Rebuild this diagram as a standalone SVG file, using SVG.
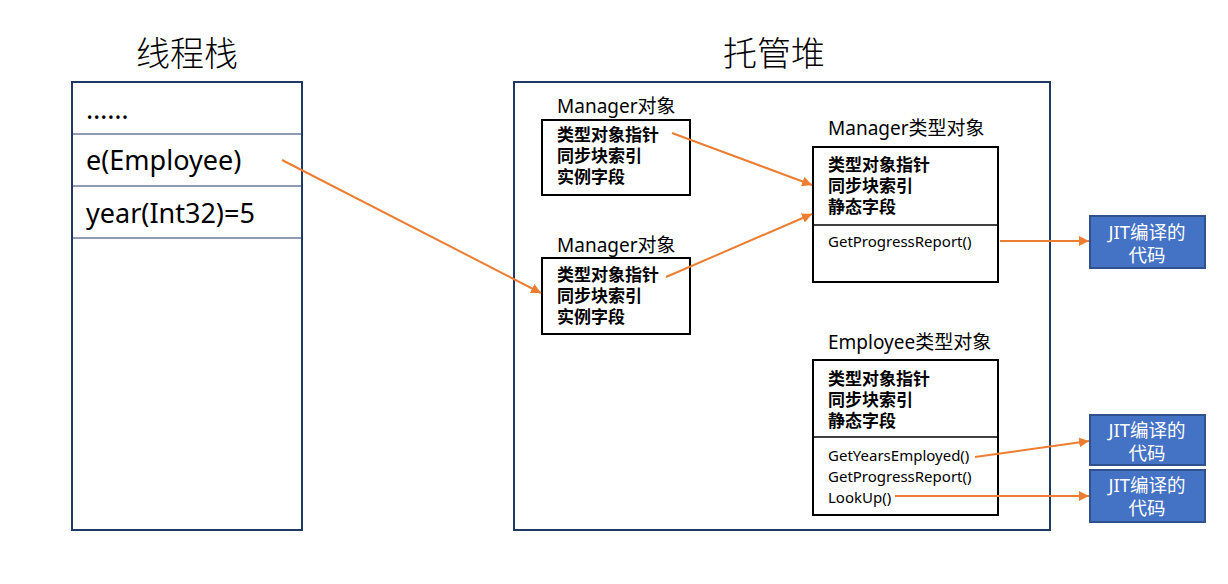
<svg xmlns="http://www.w3.org/2000/svg" width="1228" height="584" viewBox="0 0 1228 584">
<defs>
<marker id="ah" viewBox="0 0 10 10" refX="10" refY="5" markerWidth="10" markerHeight="10" markerUnits="userSpaceOnUse" orient="auto">
<path d="M0,0 L10,5 L0,10 Z" fill="#ED7D31"/>
</marker>
<style>
text{font-family:"Noto Sans","Noto Sans CJK SC",sans-serif;fill:#000}
.title{font-size:34px;text-anchor:middle;font-weight:300}
.stk{font-size:27px}
.lbl{font-size:19px}
.fld{font-size:17px;font-weight:bold}
.mth{font-size:15px}
.jit{font-size:18.5px;fill:#fff;text-anchor:middle}
.frame{fill:#fff;stroke:#1F3864;stroke-width:2}
.div{stroke:#1F3864;stroke-width:1}
.box{fill:#fff;stroke:#000;stroke-width:2}
.jbox{fill:#4472C4;stroke:#2F528F;stroke-width:2}
.con{stroke:#ED7D31;stroke-width:2;fill:none;marker-end:url(#ah)}
</style>
</defs>
<rect width="1228" height="584" fill="#fff"/>
<g id="stack">
<text class="title" x="187" y="66">线程栈</text>
<rect class="frame" x="72" y="82" width="230" height="448"/>
<line class="div" x1="72" y1="134" x2="302" y2="134"/>
<line class="div" x1="72" y1="186" x2="302" y2="186"/>
<line class="div" x1="72" y1="238" x2="302" y2="238"/>
<text class="stk" x="86" y="119">……</text>
<text class="stk" x="86" y="170">e(Employee)</text>
<text class="stk" x="86" y="223">year(Int32)=5</text>
</g>
<g id="heap">
<text class="title" x="774" y="66">托管堆</text>
<rect class="frame" x="514" y="82" width="536" height="448"/>
</g>
<g id="manager-obj-1">
<text class="lbl" x="557" y="113">Manager对象</text>
<rect class="box" x="542" y="120" width="148" height="75"/>
<text class="fld" x="557" y="141">类型对象指针</text>
<text class="fld" x="557" y="162">同步块索引</text>
<text class="fld" x="557" y="183">实例字段</text>
</g>
<g id="manager-obj-2">
<text class="lbl" x="557" y="252">Manager对象</text>
<rect class="box" x="542" y="258" width="148" height="76"/>
<text class="fld" x="557" y="281">类型对象指针</text>
<text class="fld" x="557" y="302">同步块索引</text>
<text class="fld" x="557" y="323">实例字段</text>
</g>
<g id="manager-type">
<text class="lbl" x="828" y="135">Manager类型对象</text>
<rect class="box" x="813" y="147" width="185" height="135"/>
<line stroke="#000" stroke-width="1.5" x1="813" y1="225" x2="998" y2="225"/>
<text class="fld" x="828" y="171">类型对象指针</text>
<text class="fld" x="828" y="192">同步块索引</text>
<text class="fld" x="828" y="213">静态字段</text>
<text class="mth" x="828" y="247">GetProgressReport()</text>
</g>
<g id="employee-type">
<text class="lbl" x="828" y="349">Employee类型对象</text>
<rect class="box" x="813" y="360" width="185" height="155"/>
<line stroke="#000" stroke-width="1.5" x1="813" y1="437" x2="998" y2="437"/>
<text class="fld" x="828" y="385">类型对象指针</text>
<text class="fld" x="828" y="406">同步块索引</text>
<text class="fld" x="828" y="427">静态字段</text>
<text class="mth" x="828" y="461">GetYearsEmployed()</text>
<text class="mth" x="828" y="482">GetProgressReport()</text>
<text class="mth" x="828" y="503">LookUp()</text>
</g>
<g id="jit-1">
<rect class="jbox" x="1090" y="216" width="115" height="52"/>
<text class="jit" x="1147" y="239">JIT编译的</text>
<text class="jit" x="1147" y="262">代码</text>
</g>
<g id="jit-2">
<rect class="jbox" x="1090" y="415" width="115" height="50"/>
<text class="jit" x="1147" y="437">JIT编译的</text>
<text class="jit" x="1147" y="460">代码</text>
</g>
<g id="jit-3">
<rect class="jbox" x="1090" y="470" width="115" height="52"/>
<text class="jit" x="1147" y="492">JIT编译的</text>
<text class="jit" x="1147" y="515">代码</text>
</g>
<g id="connectors">
<line class="con" x1="282" y1="160" x2="541" y2="293"/>
<line class="con" x1="672" y1="133" x2="812" y2="185"/>
<line class="con" x1="666" y1="277" x2="812" y2="214"/>
<line class="con" x1="1000" y1="241" x2="1089" y2="241"/>
<line class="con" x1="975" y1="457" x2="1089" y2="441"/>
<line class="con" x1="895" y1="496" x2="1089" y2="496"/>
</g>
</svg>
